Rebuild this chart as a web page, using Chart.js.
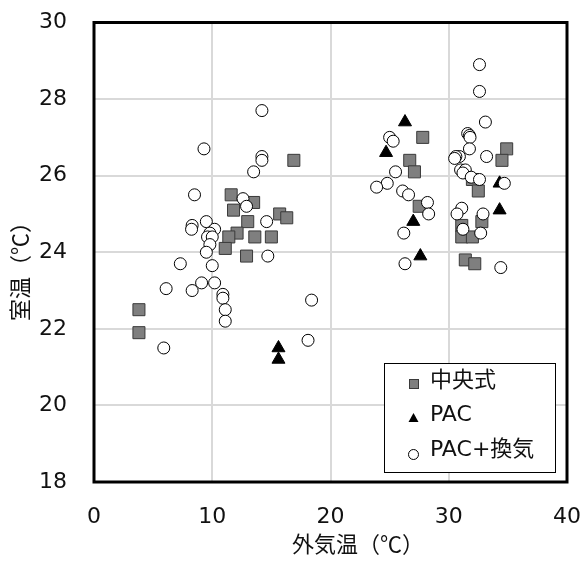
<!DOCTYPE html>
<html><head><meta charset="utf-8">
<script src="https://cdn.jsdelivr.net/npm/chart.js@4/dist/chart.umd.min.js"></script>
<style>html,body{margin:0;padding:0;background:#fff}#wrap{position:relative;width:587px;height:563px}</style>
</head><body><div id="wrap"><canvas id="c" width="587" height="563"></canvas></div>
<script>
const seriesNames = ['中央式', 'PAC', 'PAC+換気'];
const xTitle = '外気温（℃）';
const yTitle = '室温（℃）';
const xTickValues = [0, 10, 20, 30, 40];
const yTickValues = [18, 20, 22, 24, 26, 28, 30];

const centralX = [3.8, 3.8, 16.9, 11.6, 13.5, 11.8, 15.7, 16.3, 13.0, 12.1, 11.4, 13.6, 15.0, 11.1, 12.9,
                  27.8, 26.7, 27.1, 34.9, 34.5, 32.0, 32.5, 27.5, 31.1, 32.8, 31.1, 32.0, 31.4, 32.2];
const centralY = [22.5, 21.9, 26.4, 25.5, 25.3, 25.1, 25.0, 24.9, 24.8, 24.5, 24.4, 24.4, 24.4, 24.1, 23.9,
                  27.0, 26.4, 26.1, 26.7, 26.4, 25.9, 25.6, 25.2, 24.7, 24.8, 24.4, 24.4, 23.8, 23.7];

const pacX = [26.3, 24.7, 27.0, 27.6, 34.3, 34.3, 15.6, 15.6];
const pacY = [27.4, 26.6, 24.8, 23.9, 25.8, 25.1, 21.5, 21.2];

const ventX = [14.2, 9.3, 14.2, 14.2, 13.5, 8.5, 12.6, 12.9, 14.6, 9.5, 8.3, 8.25, 10.2, 9.8, 9.6, 10.0, 9.8, 14.7, 9.5, 7.3, 10.0,
               6.1, 8.3, 9.1, 10.2, 10.9, 10.9, 11.1, 11.1, 18.4, 18.1, 5.9,
               32.6, 32.6, 33.1, 31.6, 31.75, 31.8, 25.0, 25.3, 31.75, 33.2, 30.9, 30.6, 30.5, 25.5, 24.8, 23.9, 26.1, 26.6,
               28.2, 28.3, 26.2, 26.3, 31.0, 31.4, 31.2, 31.9, 32.6, 34.7, 31.1, 30.7, 32.9, 31.2, 32.7, 34.4];
const ventY = [27.7, 26.7, 26.5, 26.4, 26.1, 25.5, 25.4, 25.2, 24.8, 24.8, 24.7, 24.6, 24.6, 24.5, 24.4, 24.4, 24.2, 23.9, 24.0, 23.7, 23.65,
               23.05, 23.0, 23.2, 23.2, 22.9, 22.8, 22.5, 22.2, 22.75, 21.7, 21.5,
               28.9, 28.2, 27.4, 27.1, 27.05, 27.0, 27.0, 26.9, 26.7, 26.5, 26.5, 26.5, 26.45, 26.1, 25.8, 25.7, 25.6, 25.5,
               25.3, 25.0, 24.5, 23.7, 26.15, 26.15, 26.07, 25.96, 25.9, 25.8, 25.15, 25.0, 25.0, 24.6, 24.5, 23.6];

const toPts = (xs, ys) => xs.map((x, i) => ({x: x, y: ys[i]}));

const FONT = '"DejaVu Sans", "Noto Sans CJK JP", sans-serif';
const CJK = '"Noto Sans CJK JP", "DejaVu Sans", sans-serif';

const styles = [
  {pointStyle: 'rect', radius: 8.5, bg: '#7f7f7f', border: '#3a3a3a', bw: 1},
  {pointStyle: 'triangle', radius: 7.5, bg: '#000000', border: '#000000', bw: 1},
  {pointStyle: 'circle', radius: 6, bg: '#ffffff', border: '#000000', bw: 1}
];

const framePlugin = {
  id: 'frame',
  beforeDatasetsDraw(chart) {
    const {ctx, chartArea: a} = chart;
    ctx.save();
    ctx.strokeStyle = '#000';
    ctx.lineWidth = 3;
    ctx.strokeRect(a.left, a.top, a.right - a.left, a.bottom - a.top);
    ctx.restore();
  },
  afterDraw(chart) {
    const ctx = chart.ctx;
    ctx.save();
    ctx.fillStyle = '#111';
    ctx.font = '22px ' + CJK;
    ctx.textAlign = 'center';
    ctx.textBaseline = 'middle';
    ctx.fillText(xTitle, 358, 544);
    ctx.translate(20, 266);
    ctx.rotate(-Math.PI / 2);
    ctx.fillText(yTitle, 0, 0);
    ctx.restore();

    // legend box
    ctx.save();
    ctx.fillStyle = '#fff';
    ctx.fillRect(384, 363, 171, 109);
    ctx.strokeStyle = '#000';
    ctx.lineWidth = 1;
    ctx.strokeRect(384.5, 363.5, 171, 109);
    const rows = [381, 415, 450];
    chart.data.datasets.forEach((ds, i) => {
      const y = rows[i];
      const st = styles[i];
      ctx.fillStyle = st.bg;
      ctx.strokeStyle = st.border;
      ctx.lineWidth = 1;
      if (st.pointStyle === 'rect') {
        ctx.fillRect(409, 379, 9, 9);
        ctx.strokeRect(409.5, 379.5, 9, 9);
      } else if (st.pointStyle === 'triangle') {
        ctx.beginPath();
        ctx.moveTo(413.5, 413);
        ctx.lineTo(418.5, 422);
        ctx.lineTo(408.5, 422);
        ctx.closePath();
        ctx.fill();
      } else {
        ctx.beginPath();
        ctx.arc(413.5, 454.5, 5, 0, Math.PI * 2);
        ctx.fill();
        ctx.stroke();
      }
      ctx.fillStyle = '#111';
      ctx.font = '22px ' + FONT;
      ctx.textAlign = 'left';
      ctx.textBaseline = 'middle';
      ctx.fillText(ds.label, 430, y);
    });
    ctx.restore();
  }
};

const mkds = (i, xs, ys, order) => ({
  label: seriesNames[i],
  data: toPts(xs, ys),
  pointStyle: styles[i].pointStyle,
  pointRadius: styles[i].radius,
  pointHoverRadius: styles[i].radius,
  backgroundColor: styles[i].bg,
  borderColor: styles[i].border,
  borderWidth: styles[i].bw,
  showLine: false,
  order: order
});

const zeroPad = (s) => { s.paddingTop = 0; s.paddingBottom = 0; s.paddingLeft = 0; s.paddingRight = 0; };

const chart = new Chart(document.getElementById('c'), {
  type: 'scatter',
  data: {
    datasets: [
      mkds(0, centralX, centralY, 2),
      mkds(1, pacX, pacY, 1),
      mkds(2, ventX, ventY, 0)
    ]
  },
  plugins: [framePlugin],
  options: {
    responsive: false,
    devicePixelRatio: 1,
    animation: false,
    layout: {padding: {left: 0, right: 20, top: 22.5, bottom: 0}},
    plugins: {legend: {display: false}, tooltip: {enabled: false}, title: {display: false}},
    scales: {
      x: {
        type: 'linear', min: 0, max: 40,
        afterBuildTicks: (s) => { s.ticks = xTickValues.map(v => ({value: v})); },
        afterFit: (s) => { s.height = 81; zeroPad(s); },
        grid: {color: '#d9d9d9', lineWidth: 2, drawTicks: false},
        border: {display: false},
        ticks: {padding: 22, color: '#111', font: {size: 22, family: FONT}, maxRotation: 0}
      },
      y: {
        type: 'linear', min: 18, max: 30,
        afterBuildTicks: (s) => { s.ticks = yTickValues.map(v => ({value: v})); },
        afterFit: (s) => { s.width = 94; zeroPad(s); },
        grid: {color: '#d9d9d9', lineWidth: 2, drawTicks: false},
        border: {display: false},
        ticks: {padding: 27, color: '#111', font: {size: 22, family: FONT}}
      }
    }
  }
});
</script></body></html>
